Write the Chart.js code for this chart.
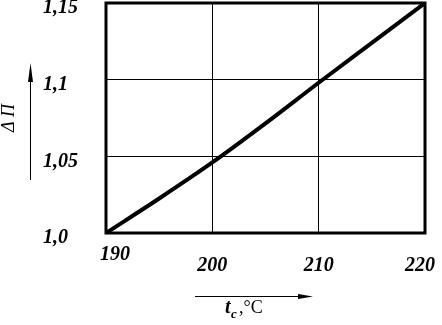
<!DOCTYPE html>
<html>
<head>
<meta charset="utf-8">
<script src="https://cdn.jsdelivr.net/npm/chart.js@4"></script>
<style>
  body { margin: 0; background: #fff; }
  #wrap { width: 442px; height: 325px; }
</style>
</head>
<body>
<div id="wrap"><canvas id="myChart"></canvas></div>
<script>
// values
const temperature = [190, 195, 200, 205, 210, 215, 220];
const deltaP = [1.0, 1.0225, 1.046, 1.0715, 1.098, 1.124, 1.15];
const xTicks = [190, 200, 210, 220];
const yTicks = [1.0, 1.05, 1.1, 1.15];
const yTickLabels = ["1,0", "1,05", "1,1", "1,15"];

const tickFont = "bold italic 20px 'Liberation Serif'";

// frame, tick labels and the little axis arrows
const decorations = {
  id: "decorations",
  afterDraw(chart) {
    const ctx = chart.ctx;
    const a = chart.chartArea;
    const xs = chart.scales.x, ys = chart.scales.y;
    ctx.save();
    ctx.strokeStyle = "#000";
    ctx.lineWidth = 3;
    ctx.strokeRect(a.left, a.top, a.right - a.left, a.bottom - a.top);

    ctx.fillStyle = "#000";
    ctx.font = tickFont;
    ctx.textBaseline = "middle";
    ctx.textAlign = "left";
    yTicks.forEach((v, i) => {
      ctx.fillText(yTickLabels[i], 43, ys.getPixelForValue(v) + 5);
    });
    ctx.textAlign = "center";
    xTicks.forEach((v, i) => {
      let x = xs.getPixelForValue(v);
      let y = a.bottom + 33;
      if (i == 0) { x += 9; y = a.bottom + 22; }
      if (i == xTicks.length - 1) x -= 5;
      ctx.fillText(String(v), x, y);
    });

    // x arrow
    ctx.lineWidth = 1;
    ctx.beginPath();
    ctx.moveTo(195, 296.5); ctx.lineTo(300, 296.5); ctx.stroke();
    ctx.beginPath();
    ctx.moveTo(298, 294); ctx.lineTo(313, 296.5); ctx.lineTo(298, 299); ctx.closePath(); ctx.fill();

    // x title
    ctx.textAlign = "left";
    ctx.textBaseline = "alphabetic";
    ctx.font = "bold italic 20px 'Liberation Serif'";
    ctx.fillText("t", 225, 313);
    ctx.font = "bold italic 13px 'Liberation Serif'";
    ctx.fillText("c", 231, 318);
    ctx.font = "18px 'Liberation Serif'";
    ctx.fillText(",°C", 239, 313);

    // y arrow
    ctx.beginPath();
    ctx.moveTo(30.5, 180); ctx.lineTo(30.5, 78); ctx.stroke();
    ctx.beginPath();
    ctx.moveTo(28, 82); ctx.lineTo(30.5, 63); ctx.lineTo(33, 82); ctx.closePath(); ctx.fill();

    // y title
    ctx.translate(14, 118);
    ctx.rotate(-Math.PI / 2);
    ctx.textAlign = "center";
    ctx.font = "italic 18px 'Liberation Serif'";
    ctx.fillText("Δ П", 0, 0);
    ctx.restore();
  }
};

let ctx = document.getElementById("myChart");

let chart = new Chart(ctx, {
  type: "line",
  data: {
    datasets: [
      {
        data: temperature.map((t, i) => ({ x: t, y: deltaP[i] })),
        borderColor: "#000",
        borderWidth: 4,
        pointRadius: 0,
        cubicInterpolationMode: "monotone",
        fill: false,
      },
    ],
  },
  options: {
    responsive: true,
    maintainAspectRatio: false,
    animation: false,
    layout: { padding: { left: 106, right: 17, top: 3, bottom: 92 } },
    plugins: { legend: { display: false }, tooltip: { enabled: false } },
    scales: {
      x: {
        type: "linear",
        min: 190,
        max: 220,
        afterBuildTicks: (s) => { s.ticks = xTicks.map((v) => ({ value: v })); },
        ticks: { display: false },
        grid: { color: "#000", lineWidth: 1, drawTicks: false },
        border: { display: false },
      },
      y: {
        min: 1.0,
        max: 1.15,
        afterBuildTicks: (s) => { s.ticks = yTicks.map((v) => ({ value: v })); },
        ticks: { display: false },
        grid: { color: "#000", lineWidth: 1, drawTicks: false },
        border: { display: false },
      },
    },
  },
  plugins: [decorations],
});
</script>
</body>
</html>
